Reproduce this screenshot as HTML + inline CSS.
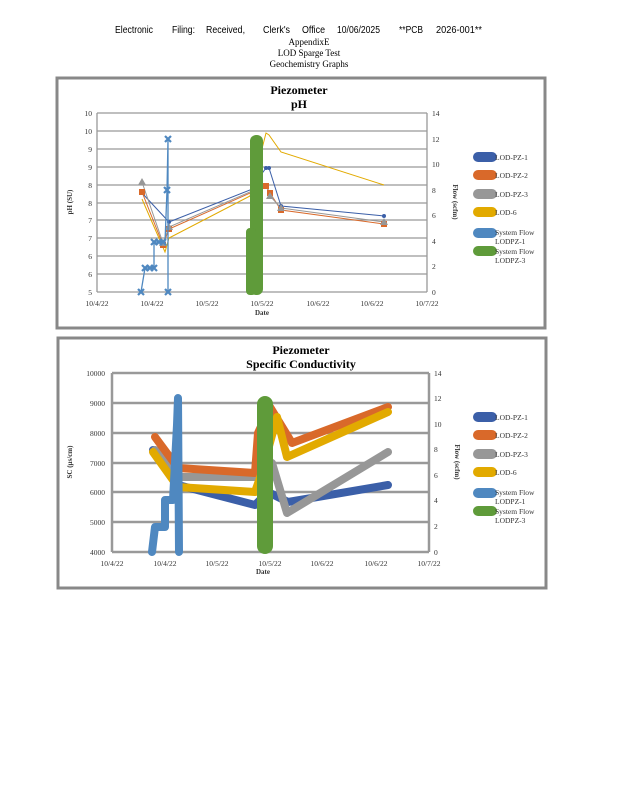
<!DOCTYPE html>
<html><head><meta charset="utf-8"><style>
html,body{margin:0;padding:0;background:#fff;}
svg{display:block;}
</style></head><body>
<svg width="618" height="800" viewBox="0 0 618 800" xmlns="http://www.w3.org/2000/svg">
<rect width="618" height="800" fill="#fff"/>
<!-- header -->
<g font-family="Liberation Sans, sans-serif" font-size="10" fill="#000">
<text x="115" y="33" textLength="38" lengthAdjust="spacingAndGlyphs">Electronic</text>
<text x="172" y="33" textLength="23" lengthAdjust="spacingAndGlyphs">Filing:</text>
<text x="206" y="33" textLength="39" lengthAdjust="spacingAndGlyphs">Received,</text>
<text x="263" y="33" textLength="27" lengthAdjust="spacingAndGlyphs">Clerk's</text>
<text x="302" y="33" textLength="23" lengthAdjust="spacingAndGlyphs">Office</text>
<text x="337" y="33" textLength="43" lengthAdjust="spacingAndGlyphs">10/06/2025</text>
<text x="399" y="33" textLength="24" lengthAdjust="spacingAndGlyphs">**PCB</text>
<text x="436" y="33" textLength="46" lengthAdjust="spacingAndGlyphs">2026-001**</text>
</g>
<g font-family="Liberation Serif, serif" font-size="9" fill="#000" text-anchor="middle">
<text x="309" y="45">AppendixE</text>
<text x="309" y="56">LOD Sparge Test</text>
<text x="309" y="67">Geochemistry Graphs</text>
</g>

<!-- CHART 1 -->
<rect x="57" y="78" width="488" height="250" fill="#fff" stroke="#888" stroke-width="3"/>
<g font-family="Liberation Serif, serif" font-weight="bold" font-size="12" text-anchor="middle" fill="#000">
<text x="299" y="94">Piezometer</text><text x="299" y="108">pH</text>
</g>
<g stroke="#999" stroke-width="1.3">
<line x1="97" x2="427" y1="113" y2="113"/><line x1="97" x2="427" y1="131" y2="131"/>
<line x1="97" x2="427" y1="149" y2="149"/><line x1="97" x2="427" y1="167" y2="167"/>
<line x1="97" x2="427" y1="185" y2="185"/><line x1="97" x2="427" y1="203" y2="203"/>
<line x1="97" x2="427" y1="220" y2="220"/><line x1="97" x2="427" y1="238" y2="238"/>
<line x1="97" x2="427" y1="256" y2="256"/><line x1="97" x2="427" y1="274" y2="274"/>
<line x1="97" x2="427" y1="292" y2="292"/>
<line x1="97" x2="97" y1="113" y2="292"/><line x1="427" x2="427" y1="113" y2="292"/>
</g>
<g font-family="Liberation Serif, serif" font-size="7.5" fill="#333" text-anchor="end">
<text x="92" y="116">10</text><text x="92" y="134">10</text><text x="92" y="152">9</text><text x="92" y="170">9</text>
<text x="92" y="188">8</text><text x="92" y="206">8</text><text x="92" y="223">7</text><text x="92" y="241">7</text>
<text x="92" y="259">6</text><text x="92" y="277">6</text><text x="92" y="295">5</text>
</g>
<g font-family="Liberation Serif, serif" font-size="7.5" fill="#333" text-anchor="start">
<text x="432" y="116">14</text><text x="432" y="142">12</text><text x="432" y="167">10</text><text x="432" y="193">8</text>
<text x="432" y="218">6</text><text x="432" y="244">4</text><text x="432" y="269">2</text><text x="432" y="295">0</text>
</g>
<g font-family="Liberation Serif, serif" font-size="7.5" fill="#333" text-anchor="middle">
<text x="97" y="306">10/4/22</text><text x="152" y="306">10/4/22</text><text x="207" y="306">10/5/22</text>
<text x="262" y="306">10/5/22</text><text x="318" y="306">10/6/22</text><text x="372" y="306">10/6/22</text><text x="427" y="306">10/7/22</text>
<text x="262" y="315" font-weight="bold" font-size="7">Date</text>
<text transform="translate(72,202) rotate(-90)" font-weight="bold" font-size="7">pH (SU)</text>
<text transform="translate(453,202) rotate(90)" font-weight="bold" font-size="7">Flow (scfm)</text>
</g>
<!-- series chart1 -->
<polyline fill="none" stroke="#3b5fa8" stroke-width="1" points="142,193 169,222 250,190 266,168 269,168 281,206 384,216"/>
<polyline fill="none" stroke="#d9692a" stroke-width="1" points="142,192 163,245 169,229 266,186 270,193 281,210 384,224"/>
<polyline fill="none" stroke="#979797" stroke-width="1" points="142,182 163,243 169,227 266,185 270,196 281,208 384,222"/>
<polyline fill="none" stroke="#e2aa00" stroke-width="1" points="142,199 165,252 169,238 250,196 266,133 269,135 281,152 384,185"/>
<g fill="#3b5fa8"><circle cx="169" cy="222" r="2"/><circle cx="266" cy="168" r="2"/><circle cx="269" cy="168" r="2"/><circle cx="281" cy="206" r="2"/><circle cx="384" cy="216" r="2"/></g>
<g fill="#d9692a"><rect x="139" y="189" width="6" height="6"/><rect x="160" y="242" width="6" height="6"/><rect x="166" y="226" width="6" height="6"/><rect x="263" y="183" width="6" height="6"/><rect x="267" y="190" width="6" height="6"/><rect x="278" y="207" width="6" height="6"/><rect x="381" y="221" width="6" height="6"/></g>
<g fill="#979797"><path d="M142,178 L146,185 L138,185Z"/><path d="M163,239 L167,246 L159,246Z"/><path d="M169,223 L173,230 L165,230Z"/><path d="M270,192 L274,199 L266,199Z"/><path d="M281,204 L285,211 L277,211Z"/><path d="M384,218 L388,225 L380,225Z"/></g>
<polyline fill="none" stroke="#4f88c0" stroke-width="1.3" points="141,292 145,268 154,268 154,242 165,242 167,190 168,139 168,292"/>
<g stroke="#4f88c0" stroke-width="2.2">
<path d="M138,289 l6,6 m0,-6 l-6,6"/><path d="M142,265 l6,6 m0,-6 l-6,6"/><path d="M147,265 l6,6 m0,-6 l-6,6"/><path d="M151,265 l6,6 m0,-6 l-6,6"/>
<path d="M151,239 l6,6 m0,-6 l-6,6"/><path d="M156,239 l6,6 m0,-6 l-6,6"/><path d="M160,239 l6,6 m0,-6 l-6,6"/><path d="M164,187 l6,6 m0,-6 l-6,6"/>
<path d="M165,136 l6,6 m0,-6 l-6,6"/><path d="M165,289 l6,6 m0,-6 l-6,6"/>
</g>
<rect x="250" y="135" width="13" height="160" rx="6" fill="#5f9b3a"/>
<rect x="246" y="228" width="10" height="67" rx="4" fill="#5f9b3a"/>
<!-- legend 1 -->
<g font-family="Liberation Serif, serif" font-size="7.5" fill="#333">
<rect x="473" y="152" width="24" height="10" rx="5" fill="#3b5fa8"/><text x="495" y="160">LOD-PZ-1</text>
<rect x="473" y="170" width="24" height="10" rx="5" fill="#d9692a"/><text x="495" y="178">LOD-PZ-2</text>
<rect x="473" y="189" width="24" height="10" rx="5" fill="#979797"/><text x="495" y="197">LOD-PZ-3</text>
<rect x="473" y="207" width="24" height="10" rx="5" fill="#e2aa00"/><text x="495" y="215">LOD-6</text>
<rect x="473" y="228" width="24" height="10" rx="5" fill="#4f88c0"/><text x="495" y="235">System Flow</text><text x="495" y="244">LODPZ-1</text>
<rect x="473" y="246" width="24" height="10" rx="5" fill="#5f9b3a"/><text x="495" y="254">System Flow</text><text x="495" y="263">LODPZ-3</text>
</g>

<!-- CHART 2 -->
<rect x="58" y="338" width="488" height="250" fill="#fff" stroke="#888" stroke-width="3"/>
<g font-family="Liberation Serif, serif" font-weight="bold" font-size="12" text-anchor="middle" fill="#000">
<text x="301" y="354">Piezometer</text><text x="301" y="368">Specific Conductivity</text>
</g>
<g stroke="#999" stroke-width="2.5">
<line x1="112" x2="429" y1="373" y2="373"/><line x1="112" x2="429" y1="403" y2="403"/>
<line x1="112" x2="429" y1="433" y2="433"/><line x1="112" x2="429" y1="463" y2="463"/>
<line x1="112" x2="429" y1="492" y2="492"/><line x1="112" x2="429" y1="522" y2="522"/>
<line x1="112" x2="429" y1="552" y2="552"/>
<line x1="112" x2="112" y1="373" y2="552"/><line x1="429" x2="429" y1="373" y2="552"/>
</g>
<g font-family="Liberation Serif, serif" font-size="7.5" fill="#333" text-anchor="end">
<text x="105" y="376">10000</text><text x="105" y="406">9000</text><text x="105" y="436">8000</text><text x="105" y="466">7000</text>
<text x="105" y="495">6000</text><text x="105" y="525">5000</text><text x="105" y="555">4000</text>
</g>
<g font-family="Liberation Serif, serif" font-size="7.5" fill="#333" text-anchor="start">
<text x="434" y="376">14</text><text x="434" y="401">12</text><text x="434" y="427">10</text><text x="434" y="452">8</text>
<text x="434" y="478">6</text><text x="434" y="503">4</text><text x="434" y="529">2</text><text x="434" y="555">0</text>
</g>
<g font-family="Liberation Serif, serif" font-size="7.5" fill="#333" text-anchor="middle">
<text x="112" y="566">10/4/22</text><text x="165" y="566">10/4/22</text><text x="217" y="566">10/5/22</text>
<text x="270" y="566">10/5/22</text><text x="322" y="566">10/6/22</text><text x="376" y="566">10/6/22</text><text x="429" y="566">10/7/22</text>
<text x="263" y="574" font-weight="bold" font-size="7">Date</text>
<text transform="translate(72,462) rotate(-90)" font-weight="bold" font-size="7">SC (μs/cm)</text>
<text transform="translate(455,462) rotate(90)" font-weight="bold" font-size="7">Flow (scfm)</text>
</g>
<g fill="none" stroke-width="8" stroke-linecap="round" stroke-linejoin="round">
<polyline stroke="#3b5fa8" points="153,450 178,485 255,505 268,492 288,502 388,485"/>
<polyline stroke="#979797" points="155,450 178,477 255,477 272,463 287,513 388,452"/>
<polyline stroke="#d9692a" points="155,437 178,468 255,473 258,433 270,407 292,443 388,407"/>
<polyline stroke="#e2aa00" points="153,452 178,487 255,492 262,472 277,417 287,457 388,412"/>
<polyline stroke="#4f88c0" points="152,552 155,527 165,527 165,500 173,500 177,425 178,398 179,552"/>
</g>
<rect x="257" y="396" width="16" height="158" rx="8" fill="#5f9b3a"/>
<!-- legend 2 -->
<g font-family="Liberation Serif, serif" font-size="7.5" fill="#333">
<rect x="473" y="412" width="24" height="10" rx="5" fill="#3b5fa8"/><text x="495" y="420">LOD-PZ-1</text>
<rect x="473" y="430" width="24" height="10" rx="5" fill="#d9692a"/><text x="495" y="438">LOD-PZ-2</text>
<rect x="473" y="449" width="24" height="10" rx="5" fill="#979797"/><text x="495" y="457">LOD-PZ-3</text>
<rect x="473" y="467" width="24" height="10" rx="5" fill="#e2aa00"/><text x="495" y="475">LOD-6</text>
<rect x="473" y="488" width="24" height="10" rx="5" fill="#4f88c0"/><text x="495" y="495">System Flow</text><text x="495" y="504">LODPZ-1</text>
<rect x="473" y="506" width="24" height="10" rx="5" fill="#5f9b3a"/><text x="495" y="514">System Flow</text><text x="495" y="523">LODPZ-3</text>
</g>
</svg>
</body></html>
